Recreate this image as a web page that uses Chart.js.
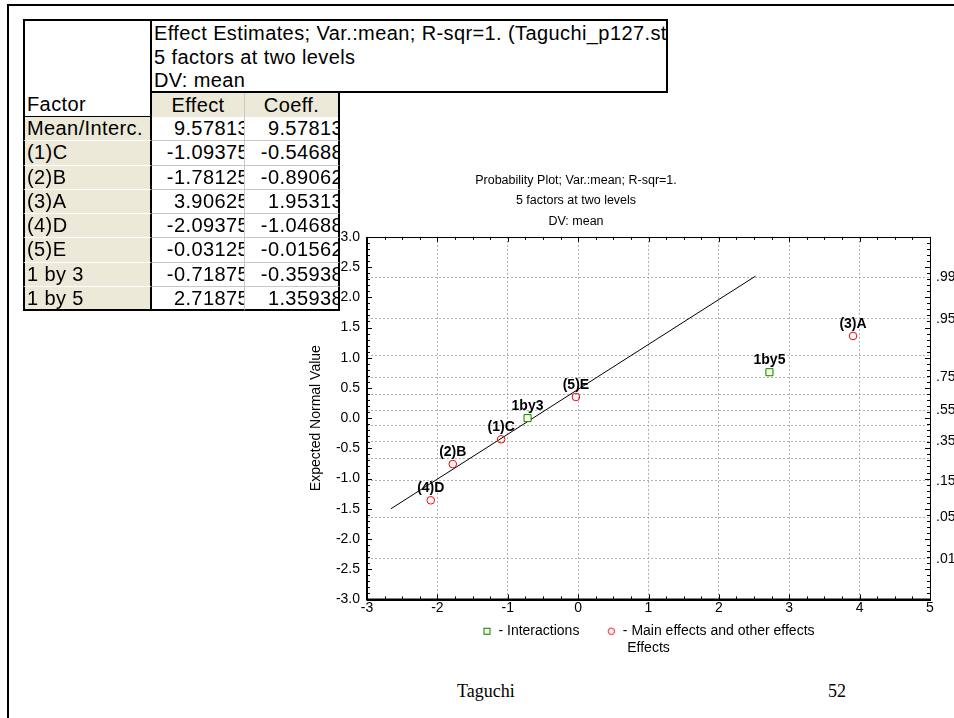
<!DOCTYPE html>
<html>

<head>
  <meta charset="UTF-8">
  <title>Taguchi - Effect Estimates</title>
</head>

<body>

<style type="text/css">
  html, body {
    margin: 0;
    padding: 0;
    width: 954px;
    height: 718px;
    overflow: hidden;
    background: #fff;
  }
  .slideFrame {
    position: absolute;
    left: 7px;
    top: 4px;
    width: 1100px;
    height: 900px;
    border-left: 2px solid #000;
    border-top: 2px solid #000;
  }
  .chartBox {
    position: absolute;
    left: 198px;
    top: 160px;
    width: 756px;
    height: 501px;
  }
  .est {
    position: absolute;
    font-family: "Liberation Sans", Arial, sans-serif;
    font-size: 20px;
    letter-spacing: 0.4px;
    color: #000;
  }
  .est div {
    position: absolute;
    box-sizing: border-box;
    overflow: hidden;
    white-space: nowrap;
  }
  .footer {
    position: absolute;
    font-family: "Liberation Serif", "Times New Roman", serif;
    font-size: 18px;
    color: #000;
  }
</style>

<script src="https://cdn.jsdelivr.net/npm/chart.js@4.4.1/dist/chart.umd.min.js"></script>

<div class="slideFrame"></div>

<div class="chartBox">
  <canvas id="myChart"></canvas>
</div>

<div class="est" id="estTable"></div>

<div class="footer" style="left:457px; top:681px;">Taguchi</div>
<div class="footer" style="left:828px; top:681px;">52</div>

<script>
// effect estimates table
const tableTitle = ['Effect Estimates; Var.:mean; R-sqr=1. (Taguchi_p127.sta)', '5 factors at two levels', 'DV: mean'];
const factors = ['Mean/Interc.', '(1)C', '(2)B', '(3)A', '(4)D', '(5)E', '1 by 3', '1 by 5'];
const effectCol = ['9.57813', '-1.09375', '-1.78125', '3.90625', '-2.09375', '-0.03125', '-0.71875', '2.71875'];
const coeffCol = ['9.57813', '-0.54688', '-0.89062', '1.95313', '-1.04688', '-0.01562', '-0.35938', '1.35938'];

// normal probability plot
const mainLabels = ['(1)C', '(2)B', '(3)A', '(4)D', '(5)E'];
const mainEffects = [-1.09375, -1.78125, 3.90625, -2.09375, -0.03125];
const mainNormal = [-0.35, -0.76, 1.36, -1.36, 0.35];
const interLabels = ['1by3', '1by5'];
const interEffects = [-0.71875, 2.71875];
const interNormal = [0.0, 0.76];
const fitX = [-2.66, 2.52];
const fitY = [-1.50, 2.35];

// right hand probability axis (normal quantiles)
const probZ = [2.326, 1.645, 1.036, 0.674, 0.385, 0.126, -0.126, -0.385, -0.674, -1.036, -1.645, -2.326];
const probLabels = ['.99', '.95', '', '.75', '', '.55', '', '.35', '', '.15', '.05', '.01'];

// ---- table ----
const tbl = document.getElementById('estTable');
const colX = [23, 152, 245, 340];
const rowTop = 117;
const rowH = 24.25;
const beige = '#ece9d8';
const gridGrey = '#c8c8c8';

function cell(x0, y0, x1, y1, css, html) {
  const d = document.createElement('div');
  d.style.left = x0 + 'px';
  d.style.top = y0 + 'px';
  d.style.width = (x1 - x0) + 'px';
  d.style.height = (y1 - y0) + 'px';
  d.style.cssText += css;
  if (html) d.innerHTML = html;
  tbl.appendChild(d);
  return d;
}

// title block
cell(152, 19, 668, 93, 'background:#fff;border-top:2px solid #000;border-right:2px solid #000;border-bottom:2px solid #000;padding:1px 0 0 2px;line-height:23.5px;',
  tableTitle.join('<br>'));
// corner cell with "Factor"
cell(23, 19, 152, 117, 'background:#fff;border-top:2px solid #000;border-left:2px solid #000;border-right:2px solid #000;border-bottom:1px solid #000;',
  '<span style="position:absolute;left:2px;bottom:0px;">Factor</span>');
// column headers
cell(152, 93, 245, 117, 'background:' + beige + ';border-right:1px solid ' + gridGrey + ';text-align:center;line-height:24px;', 'Effect');
cell(245, 93, 340, 117, 'background:' + beige + ';border-right:2px solid #000;text-align:center;line-height:24px;', 'Coeff.');

factors.forEach((f, i) => {
  const y0 = rowTop + i * rowH;
  const y1 = y0 + rowH;
  const last = i === factors.length - 1;
  const bottom = last ? 'border-bottom:2px solid #000;' : 'border-bottom:1px solid #fff;';
  cell(colX[0], y0, colX[1], y1, 'background:' + beige + ';border-left:2px solid #000;border-right:2px solid #000;padding-left:2px;line-height:23px;' + bottom, f);
  const vb = last ? 'border-bottom:2px solid #000;' : 'border-bottom:1px solid ' + gridGrey + ';';
  cell(colX[1], y0, colX[2], y1, 'background:#fff;border-right:1px solid ' + gridGrey + ';line-height:23px;' + vb,
    '<span style="position:absolute;right:-5px;">' + effectCol[i] + '</span>');
  cell(colX[2], y0, colX[3], y1, 'background:#fff;border-right:2px solid #000;line-height:23px;' + vb,
    '<span style="position:absolute;right:-5px;">' + coeffCol[i] + '</span>');
});

// ---- chart ----
const sans = '"Liberation Sans", Arial, sans-serif';

const mainData = mainEffects.map((k, i) => ({x: k, y: mainNormal[i]}));
const interData = interEffects.map((k, i) => ({x: k, y: interNormal[i]}));
const fitData = fitX.map((k, i) => ({x: k, y: fitY[i]}));

// small hollow markers for the legend
function legendMarker(kind) {
  const c = document.createElement('canvas');
  c.width = 9;
  c.height = 9;
  const g = c.getContext('2d');
  g.lineWidth = 1;
  if (kind === 'rect') {
    g.fillStyle = '#ffffe0';
    g.fillRect(1, 1, 7, 7);
    g.strokeStyle = '#008000';
    g.strokeRect(1.5, 1.5, 6, 6);
  } else {
    g.strokeStyle = '#ff0000';
    g.beginPath();
    g.arc(4.5, 4.5, 3.2, 0, Math.PI * 2);
    g.stroke();
  }
  return c;
}
const legendMarkers = [legendMarker('rect'), legendMarker('circle')];

// point names above markers, frame and inward minor ticks
const plotExtras = {
  id: 'plotExtras',
  afterDatasetsDraw(chart) {
    const ctx = chart.ctx;
    ctx.save();
    ctx.font = 'bold 14px ' + sans;
    ctx.fillStyle = '#000';
    ctx.textAlign = 'center';
    ctx.textBaseline = 'middle';
    chart.data.datasets.forEach((ds, di) => {
      if (!ds.pointNames) return;
      chart.getDatasetMeta(di).data.forEach((pt, i) => {
        ctx.fillText(ds.pointNames[i], pt.x, pt.y - 12);
      });
    });
    ctx.restore();
  },
  afterDraw(chart) {
    const ctx = chart.ctx;
    const a = chart.chartArea;
    const xs = chart.scales.x;
    const ys = chart.scales.y;
    ctx.save();
    ctx.strokeStyle = '#000';
    ctx.lineWidth = 1;
    ctx.beginPath();
    for (let v = -3; v <= 5.001; v += 0.25) {
      const px = Math.round(xs.getPixelForValue(v)) + 0.5;
      const len = Math.abs(v - Math.round(v)) < 1e-6 ? 5 : 3;
      ctx.moveTo(px, a.bottom); ctx.lineTo(px, a.bottom - len);
      ctx.moveTo(px, a.top); ctx.lineTo(px, a.top + len);
    }
    for (let v = -3; v <= 3.001; v += 0.1) {
      const py = Math.round(ys.getPixelForValue(v)) + 0.5;
      const len = Math.abs(v * 2 - Math.round(v * 2)) < 1e-6 ? 5 : 3;
      ctx.moveTo(a.left, py); ctx.lineTo(a.left + len, py);
      ctx.moveTo(a.right, py); ctx.lineTo(a.right - len, py);
    }
    ctx.stroke();
    // box round the plot
    ctx.strokeRect(Math.round(a.left) + 0.5, Math.round(a.top) + 0.5, Math.round(a.right - a.left), Math.round(a.bottom - a.top));
    ctx.lineWidth = 2;
    ctx.beginPath();
    ctx.moveTo(a.left, a.top); ctx.lineTo(a.left, a.bottom); ctx.lineTo(a.right, a.bottom);
    ctx.stroke();
    ctx.restore();
  }
};

const ctx = document.getElementById('myChart').getContext('2d');
const myChart = new Chart(ctx, {
  type: 'scatter',
  data: {
    datasets: [
      {
        label: '- Interactions     ',
        data: interData,
        pointNames: interLabels,
        pointStyle: 'rect',
        pointRadius: 5,
        pointHoverRadius: 5,
        borderColor: '#008000',
        backgroundColor: '#ffffe0',
        borderWidth: 1,
      },
      {
        label: '- Main effects and other effects',
        data: mainData,
        pointNames: mainLabels,
        pointStyle: 'circle',
        pointRadius: 3.8,
        pointHoverRadius: 3.8,
        borderColor: '#ff0000',
        backgroundColor: 'rgba(255,255,255,0)',
        borderWidth: 1,
      },
      {
        label: 'fit',
        data: fitData,
        showLine: true,
        pointRadius: 0,
        borderColor: '#000',
        borderWidth: 1,
      }
    ]
  },
  options: {
    responsive: true,
    maintainAspectRatio: false,
    animation: false,
    layout: {
      padding: 0
    },
    scales: {
      x: {
        min: -3,
        max: 5,
        ticks: {
          stepSize: 1,
          padding: 0,
          color: '#000',
          font: {family: sans, size: 14}
        },
        grid: {
          color: '#b0b0b0',
          drawTicks: false,
          lineWidth: 1
        },
        border: {display: false, dash: [2, 2]}
      },
      y: {
        min: -3,
        max: 3,
        afterFit: (s) => { s.width = 169; },
        ticks: {
          stepSize: 0.5,
          padding: 7,
          color: '#000',
          font: {family: sans, size: 14},
          callback: (v) => Number(v).toFixed(1)
        },
        grid: {display: false, drawTicks: false},
        border: {display: false},
        title: {
          display: true,
          text: 'Expected Normal Value',
          color: '#000',
          font: {family: sans, size: 14},
          padding: {top: 110, bottom: 0}
        }
      },
      y2: {
        position: 'right',
        min: -3,
        max: 3,
        afterBuildTicks: (s) => { s.ticks = probZ.map(v => ({value: v})); },
        afterFit: (s) => { s.width = 24; },
        ticks: {
          autoSkip: false,
          padding: 6,
          color: '#000',
          font: {family: sans, size: 14},
          callback: (v, i) => probLabels[i]
        },
        grid: {
          color: '#b0b0b0',
          drawTicks: false,
          lineWidth: 1
        },
        border: {display: false, dash: [2, 2]}
      }
    },
    plugins: {
      title: {
        display: true,
        text: ['Probability Plot; Var.:mean; R-sqr=1.', '5 factors at two levels', 'DV: mean'],
        color: '#000',
        font: {family: sans, size: 12.5, weight: 'normal', lineHeight: 1.65},
        padding: {top: 10, bottom: 5}
      },
      subtitle: {
        display: true,
        position: 'bottom',
        fullSize: false,
        text: 'Effects',
        color: '#000',
        font: {family: sans, size: 14},
        padding: {top: -8, bottom: 4}
      },
      legend: {
        position: 'bottom',
        fullSize: false,
        labels: {
          usePointStyle: true,
          boxWidth: 9,
          boxHeight: 9,
          padding: 8,
          color: '#000',
          font: {family: sans, size: 14},
          filter: (item) => item.datasetIndex < 2,
          generateLabels: (chart) => {
            const items = Chart.defaults.plugins.legend.labels.generateLabels(chart);
            items.forEach((it) => {
              if (it.datasetIndex < 2) it.pointStyle = legendMarkers[it.datasetIndex];
            });
            return items;
          }
        }
      },
      tooltip: {enabled: false}
    }
  },
  plugins: [plotExtras]
});
</script>

</body>
</html>
